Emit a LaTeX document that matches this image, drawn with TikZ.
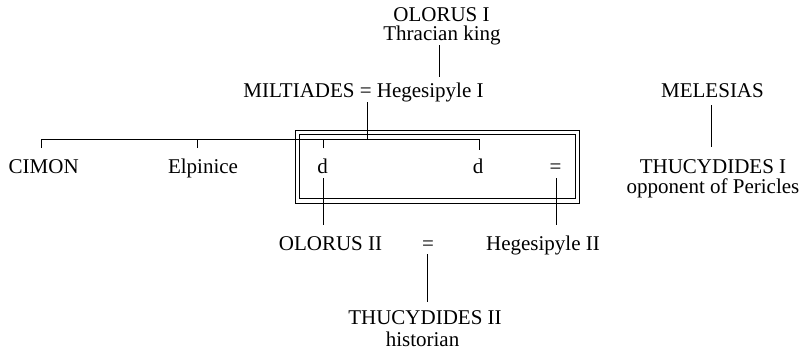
\documentclass[tikz,border=0pt]{standalone}
\usepackage{fontspec}
\setmainfont{Liberation Serif}
\begin{document}
\begin{tikzpicture}[x=1pt,y=-1pt,
  txt/.style={anchor=base, inner sep=0pt, font=\fontsize{21}{21}\selectfont},
  link/.style={line width=1pt, line cap=butt},
  boxline/.style={line width=1pt}]
\useasboundingbox (0,0) rectangle (804,356);
% names
\node[txt] (olorusI)   at (441.5,21) {OLORUS I};
\node[txt] (thracian)  at (442,41)   {Thracian king};
\node[txt] (miltiades) at (363.5,97) {MILTIADES = Hegesipyle I};
\node[txt] (melesias)  at (712.5,97) {MELESIAS};
\node[txt] (cimon)     at (43.7,173) {CIMON};
\node[txt] (elpinice)  at (203,173)  {Elpinice};
\node[txt] (dA)        at (322.5,173) {d};
\node[txt] (dB)        at (478,173)  {d};
\node[txt] (eqA)       at (555.5,173) {=};
\node[txt] (thucI)     at (713,173)  {THUCYDIDES I};
\node[txt] (opponent)  at (713,193)  {opponent of Pericles};
\node[txt] (olorusII)  at (330.5,250) {OLORUS II};
\node[txt] (eqB)       at (428,250)  {=};
\node[txt] (hegII)     at (543,250)  {Hegesipyle II};
\node[txt] (thucII)    at (425,324)  {THUCYDIDES II};
\node[txt] (historian) at (422.5,346) {historian};
% joints
\coordinate (olTop)   at (439,45);
\coordinate (olBot)   at (439,77);
\coordinate (miTop)   at (367,102);
\coordinate (bar)     at (367,139);
\coordinate (barL)    at (41,139);
\coordinate (barR)    at (479,139);
\coordinate (tCim)    at (41,148);
\coordinate (tElp)    at (197,148);
\coordinate (tdA)     at (323,148);
\coordinate (tdB)     at (479,150);
\coordinate (dAtop)   at (323,178);
\coordinate (dAbot)   at (323,225);
\coordinate (eqTop)   at (556,178);
\coordinate (eqBot)   at (556,225);
\coordinate (mTop)    at (427,254);
\coordinate (mBot)    at (427,302);
\coordinate (meTop)   at (711,105);
\coordinate (meBot)   at (711,147);
% connectors
\draw[link] (olTop) -- (olBot);
\draw[link] (miTop) -- (bar);
\draw[link] (tCim) -- (barL) -- (barR) -- (tdB);
\draw[link] (tElp) -- (tElp |- barL);
\draw[link] (tdA) -- (tdA |- barL);
\draw[link] (dAtop) -- (dAbot);
\draw[link] (eqTop) -- (eqBot);
\draw[link] (mTop) -- (mBot);
\draw[link] (meTop) -- (meBot);
% double box
\draw[boxline] (295,130) rectangle (579,203);
\draw[boxline] (299,134) rectangle (575,198);
\end{tikzpicture}
\end{document}
